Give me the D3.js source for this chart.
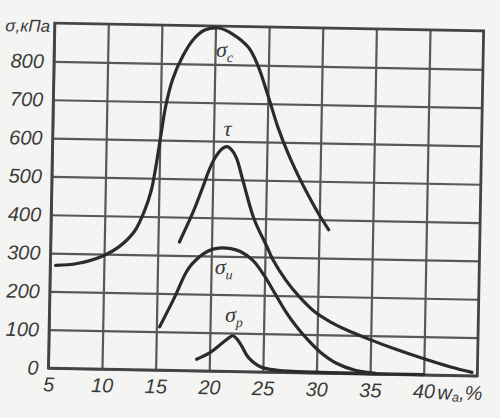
<!DOCTYPE html>
<html><head><meta charset="utf-8">
<script src="https://cdn.jsdelivr.net/npm/d3@7"></script>
<style>html,body{margin:0;padding:0;background:#f4f4f2;}svg{display:block}</style>
</head><body>
<svg id="c" width="500" height="418"></svg>
<script>
// ---- data ----
const xTicks = [5, 10, 15, 20, 25, 30, 35, 40];
const yTicks = [0, 100, 200, 300, 400, 500, 600, 700, 800];
const yTitle = "σ,кПа";
const xTitleMain = "w", xTitleSub = "а", xTitleTail = ",%";

const sigmaC_x = [5.5, 7.5, 9.9, 11.3, 12.8, 13.7, 14.3, 14.7, 15.1, 15.5, 16.1, 17.0, 17.9, 19.0, 20.3, 21.6, 23.1, 24.0, 25.0, 26.0, 27.0, 28.0, 29.0, 30.0, 30.9];
const sigmaC_y = [268, 274, 295, 318, 361, 415, 470, 535, 615, 690, 760, 820, 862, 889, 895, 880, 846, 800, 722, 638, 570, 512, 460, 412, 374];

const tau_x = [17.0, 18.2, 19.1, 19.7, 20.3, 20.9, 21.3, 21.8, 22.2, 22.8, 23.9, 25.15, 25.75, 27.0, 28.2, 29.7, 31.2, 32.7, 34.7, 37.3, 40.0, 42.5, 44.5];
const tau_y = [335, 412, 480, 528, 562, 582, 586, 575, 555, 500, 400, 328, 293, 240, 200, 160, 134, 114, 92, 66, 42, 22, 9];

const sigmaU_x = [15.3, 16.65, 17.6, 18.2, 19.7, 20.7, 21.8, 22.7, 23.9, 25.0, 26.0, 27.0, 28.0, 29.0, 30.3, 31.8, 33.6, 35.5];
const sigmaU_y = [113, 191, 252, 278, 313, 321, 320, 313, 290, 250, 205, 160, 122, 90, 55, 27, 9, 2];

const sigmaP_x = [18.8, 20.0, 21.2, 21.8, 22.1, 22.5, 23.0, 23.6, 24.8, 26.4, 30.0, 35.0, 40.0];
const sigmaP_y = [30, 47, 74, 88, 93, 86, 66, 38, 13, 5, 2, 1, 1];

const seriesNames = ["σс", "τ", "σи", "σр"];
const labelMain = ["σ", "τ", "σ", "σ"];
const labelSub = ["с", "", "и", "р"];
const labelX = [20.65, 21.5, 20.9, 21.95];
const labelY = [833, 627, 266, 142];

// ---- drawing ----
const W = 500, H = 418;
const svg = d3.select("#c");
svg.append("rect").attr("width", W).attr("height", H).attr("fill", "#f4f4f2");
const g = svg.append("g").attr("transform", "rotate(1.05,266,199.5)");

const x = d3.scaleLinear().domain([5, 45]).range([51.5, 480.5]);
const y = d3.scaleLinear().domain([0, 900]).range([372, 27]);
const pw = x(45) - x(5), ph = y(0) - y(900);

const gridCol = "#585858", txtCol = "#3a3a3a";

const xa = g.append("g").attr("transform", `translate(0,${y(0)})`)
  .call(d3.axisBottom(x).tickValues(xTicks).tickSize(-ph).tickPadding(9).tickFormat(d3.format("d")));
const ya = g.append("g").attr("transform", `translate(${x(5)},0)`)
  .call(d3.axisLeft(y).tickValues(yTicks).tickSize(-pw).tickPadding(10).tickFormat(d3.format("d")));
[xa, ya].forEach(a => {
  a.select(".domain").remove();
  a.selectAll(".tick line").attr("stroke", gridCol).attr("stroke-width", 2.2);
  a.selectAll(".tick text").attr("fill", txtCol)
    .style("font-family", "'Liberation Sans', Arial, sans-serif")
    .style("font-style", "italic").style("font-size", "20px");
});

g.append("rect").attr("x", x(5)).attr("y", y(900)).attr("width", pw).attr("height", ph)
  .attr("fill", "none").attr("stroke", "#444").attr("stroke-width", 2.8);

const line = d3.line().x(d => x(d[0])).y(d => y(d[1])).curve(d3.curveCatmullRom.alpha(0.5));
const series = [[sigmaC_x, sigmaC_y], [tau_x, tau_y], [sigmaU_x, sigmaU_y], [sigmaP_x, sigmaP_y]];
g.selectAll("path.curve").data(series).join("path").attr("class", "curve")
  .attr("d", s => line(s[0].map((v, i) => [v, s[1][i]])))
  .attr("fill", "none").attr("stroke", "#2b2b2b").attr("stroke-width", 3.2)
  .attr("stroke-linecap", "round").attr("stroke-linejoin", "round");

// curve labels
labelMain.forEach((m, i) => {
  const t = g.append("text").attr("x", x(labelX[i]) - 6).attr("y", y(labelY[i]) + 5)
    .attr("fill", txtCol).style("font-family", "'Liberation Serif', 'DejaVu Serif', serif")
    .style("font-style", "italic").style("font-size", "22px");
  t.append("tspan").text(m);
  if (labelSub[i]) t.append("tspan").attr("dy", 5).style("font-size", "14px").text(labelSub[i]);
});

// axis titles
g.append("text").attr("x", 47).attr("y", y(900) + 9).attr("text-anchor", "end")
  .attr("fill", txtCol).style("font-family", "'Liberation Sans', Arial, sans-serif")
  .style("font-style", "italic").style("font-size", "17px").text(yTitle);
const xt = g.append("text").attr("x", 441).attr("y", y(0) + 24)
  .attr("fill", txtCol).style("font-family", "'Liberation Sans', Arial, sans-serif")
  .style("font-style", "italic").style("font-size", "20px");
xt.append("tspan").text(xTitleMain);
xt.append("tspan").attr("dy", 2).style("font-size", "13px").text(xTitleSub);
xt.append("tspan").attr("dy", -2).text(xTitleTail);
</script>
</body></html>
